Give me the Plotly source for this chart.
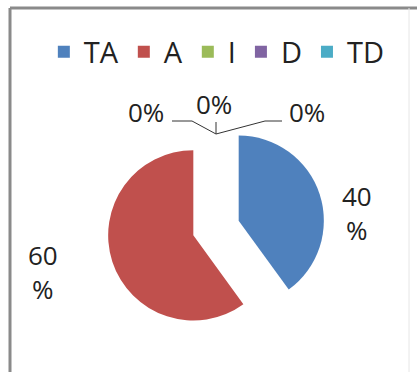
import plotly.graph_objects as go

categories = ["TA", "A", "I", "D", "TD"]
values = [40, 60, 0, 0, 0]
colors = ["#4F81BD", "#C0504D", "#9BBB59", "#8064A2", "#4BACC6"]
pulls = [0.28, 0.28, 0, 0, 0]

W, H = 417, 372
FONT = "Open Sans"
TXT = "#222222"

def px(x, y):
    return x / W, 1 - y / H

fig = go.Figure()
fig.add_trace(go.Pie(
    labels=categories,
    values=values,
    marker=dict(colors=colors, line=dict(width=0)),
    sort=False,
    direction="clockwise",
    rotation=0,
    pull=pulls,
    textinfo="none",
    domain=dict(x=[107 / W, 325 / W], y=[1 - 337 / H, 1 - 119 / H]),
    showlegend=True,
    hoverinfo="label+percent",
))

# data labels
label_pos = {"TA": (357, 213), "A": (43, 272), "I": (146, 112), "D": (214, 104), "TD": (307, 112)}
for c, v in zip(categories, values):
    x, y = label_pos[c]
    ax, ay = px(x, y)
    txt = f"{v}<br>%" if v > 0 else f"{v}%"
    fig.add_annotation(x=ax, y=ay, xref="paper", yref="paper", text=txt,
                       showarrow=False, align="center", xanchor="center", yanchor="middle",
                       font=dict(family=FONT, size=26, color=TXT))

def path(points):
    s = ""
    for i, (x, y) in enumerate(points):
        fx, fy = px(x, y)
        s += ("M" if i == 0 else "L") + f"{fx},{fy} "
    return s

leaders = [
    [(172, 121), (192, 121), (216, 134)],
    [(216, 122), (216, 134)],
    [(282, 121), (265, 121), (216, 134)],
]
for pts in leaders:
    fig.add_shape(type="path", xref="paper", yref="paper", path=path(pts),
                  line=dict(color="#333333", width=1))

# chart border
fig.add_shape(type="line", xref="paper", yref="paper", x0=10 / W, x1=10 / W, y0=0, y1=1 - 8 / H,
              line=dict(color="#8a8a8a", width=3))
fig.add_shape(type="line", xref="paper", yref="paper", x0=10 / W, x1=1, y0=1 - 8 / H, y1=1 - 8 / H,
              line=dict(color="#8a8a8a", width=3))
fig.add_shape(type="line", xref="paper", yref="paper", x0=409 / W, x1=409 / W, y0=0, y1=1 - 8 / H,
              line=dict(color="#e6e6e6", width=1))

fig.update_layout(
    width=W, height=H,
    margin=dict(l=0, r=0, t=0, b=0),
    paper_bgcolor="white",
    plot_bgcolor="white",
    font=dict(family=FONT, size=26, color=TXT),
    legend=dict(orientation="h", x=0.52, xanchor="center", y=1 - 52 / H, yanchor="middle",
                font=dict(family=FONT, size=29, color=TXT),
                itemwidth=30, tracegroupgap=0, bgcolor="rgba(0,0,0,0)"),
)

fig.write_html("out.html", config={"displayModeBar": False},
               post_script="document.body.style.margin='0px';document.body.style.overflow='hidden';")
